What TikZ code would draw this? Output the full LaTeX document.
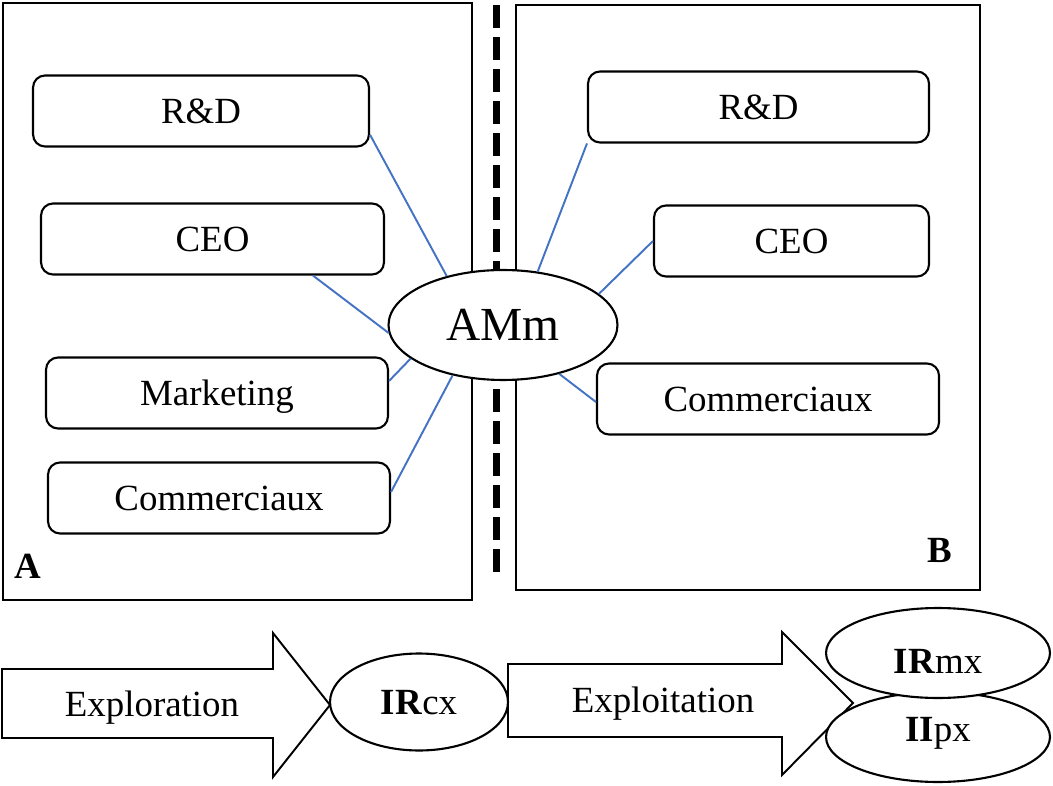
\documentclass[tikz,border=0pt]{standalone}
\usepackage{fontspec}
\setmainfont{Liberation Serif}
\usepackage{tikz}
\usetikzlibrary{shapes.geometric}
\definecolor{linkblue}{HTML}{4472C4}

\begin{document}
\begin{tikzpicture}[x=0.02cm,y=-0.02cm]
	\useasboundingbox (0,0) rectangle (1053,786);
	
	\tikzstyle{dept}=[draw,rounded corners=0.24cm,line width=1.2pt,minimum height=1.42cm,inner sep=0pt,font=\fontsize{21}{25}\selectfont,text height=13.9pt,text depth=0pt]
	
	\tikzstyle{oval}=[draw,ellipse,fill=white,line width=1.2pt,inner sep=0pt,font=\fontsize{21}{25}\selectfont,text height=13.9pt,text depth=0pt]
	
	\tikzstyle{word}=[inner sep=0pt,font=\fontsize{21}{25}\selectfont,text height=13.9pt,text depth=0pt]
	
	\tikzstyle{link}=[linkblue,line width=1.1pt]
	\tikzstyle{flow}=[draw,line width=1.1pt,fill=white]
	
	% panels A and B, separator
	\draw[line width=1.3pt] (3,3) rectangle (472,600);
	\draw[line width=1.3pt] (516,5) rectangle (980,590);
	\coordinate (sepTop) at (496.5,5);
	\coordinate (sepBot) at (496.5,572);
	\draw[line width=0.14cm,dash pattern=on 0.46cm off 0.18cm] (sepTop) -- (sepBot);
	
	\node[word,font=\fontsize{21}{25}\selectfont\bfseries](labA) at (28,566){A};
	\node[word,font=\fontsize{21}{25}\selectfont\bfseries](labB) at (940,550){B};
	
	\node[dept,minimum width=6.72cm](rdA) at (201,111){R\&D};
	\node[dept,minimum width=6.86cm](ceoA) at (212.5,239){CEO};
	\node[dept,minimum width=6.84cm](mktA) at (217,393){Marketing};
	\node[dept,minimum width=6.84cm](comA) at (219,498){Commerciaux};
	
	\node[dept,minimum width=6.82cm](rdB) at (758.5,107){R\&D};
	\node[dept,minimum width=5.5cm](ceoB) at (791.5,241){CEO};
	\node[dept,minimum width=6.84cm](comB) at (768,399){Commerciaux};
	
	\node[oval,minimum width=4.58cm,minimum height=2.2cm,font=\fontsize{27}{32}\selectfont,text height=17.9pt](amm) at (503,325){AMm};
	
	\draw[link] (rdA.-8) -- (amm.139);
	\draw[link] (ceoA.-20) -- (amm.184);
	\draw[link] (mktA.4) -- (amm.200);
	\draw[link] (comA.2) -- (amm.225);
	\draw[link] (rdB.192) -- (amm.57);
	\draw[link] (ceoB.west) -- (amm.18);
	\draw[link] (comB.181) -- (amm.-41);
	
	% bottom row
	\draw[flow] (2,669) -- (273,669) -- (273,633) -- (330,705) -- (273,777) -- (273,738) -- (2,738) -- cycle;
	\draw[flow] (508,664) -- (782,664) -- (782,632) -- (853,703) -- (782,775) -- (782,737) -- (508,737) -- cycle;
	\node[word](explo) at (152,704){Exploration};
	\node[word](exploit) at (663,700){Exploitation};
	
	\node[oval,minimum width=3.56cm,minimum height=1.94cm](ircx) at (419,702){\textbf{IR}cx};
	\node[oval,minimum width=4.48cm,minimum height=1.8cm,text depth=9pt](iipx) at (938,737){\textbf{II}px};
	\node[oval,minimum width=4.48cm,minimum height=1.8cm,text height=22.9pt](irmx) at (938,653){\textbf{IR}mx};
	
\end{tikzpicture}
\end{document}
